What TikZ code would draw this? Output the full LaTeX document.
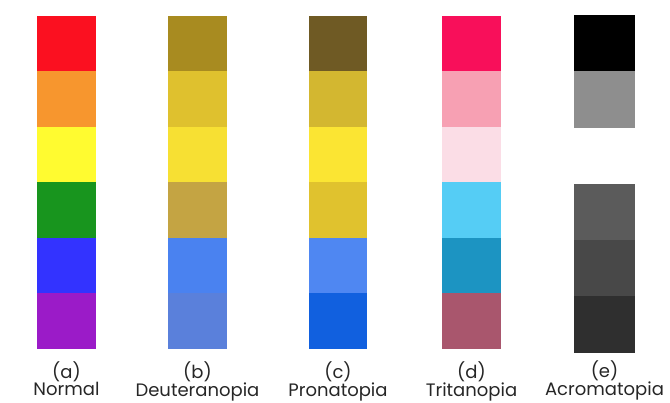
\documentclass[tikz,border=0pt]{standalone}
\usepackage{fontspec}
\setmainfont{Poppins}
\usepackage{tikz}
\usetikzlibrary{positioning}
\definecolor{nred}{HTML}{FB1020}
\definecolor{norange}{HTML}{F7962E}
\definecolor{nyellow}{HTML}{FFFB30}
\definecolor{ngreen}{HTML}{18951E}
\definecolor{nblue}{HTML}{3333FF}
\definecolor{npurple}{HTML}{9B1BC8}
\definecolor{dred}{HTML}{A88B20}
\definecolor{dorange}{HTML}{DFC12E}
\definecolor{dyellow}{HTML}{F7E033}
\definecolor{dgreen}{HTML}{C4A443}
\definecolor{dblue}{HTML}{4A82F0}
\definecolor{dpurple}{HTML}{5A80DB}
\definecolor{pred}{HTML}{6F5A24}
\definecolor{porange}{HTML}{D3B730}
\definecolor{pyellow}{HTML}{FBE533}
\definecolor{pgreen}{HTML}{E0C22E}
\definecolor{pblue}{HTML}{4F87F2}
\definecolor{ppurple}{HTML}{1160DF}
\definecolor{tred}{HTML}{F80F5A}
\definecolor{torange}{HTML}{F7A0B3}
\definecolor{tyellow}{HTML}{FBDDE6}
\definecolor{tgreen}{HTML}{55CDF5}
\definecolor{tblue}{HTML}{1C94C2}
\definecolor{tpurple}{HTML}{A9566D}
\definecolor{gred}{HTML}{000000}
\definecolor{gorange}{HTML}{8E8E8E}
\definecolor{ggreen}{HTML}{5B5B5B}
\definecolor{gblue}{HTML}{484848}
\definecolor{gpurple}{HTML}{2F2F2F}
\begin{document}
\begin{tikzpicture}[x=1pt, y=-1pt,
        node distance=0pt,
        swatch/.style={rectangle, inner sep=0pt, outer sep=0pt, minimum width=59pt, minimum height=55.5pt},
        gswatch/.style={swatch, minimum width=61pt, minimum height=56.3pt},
        caption/.style={align=center, inner sep=0pt, font=\fontsize{18}{17}\selectfont, text=black!85}
    ]
    \useasboundingbox (0,0) rectangle (670,403);
    % (a) normal
    \node[swatch, fill=nred, anchor=north west] (a1) at (37,16) {};
    \node[swatch, fill=norange, below=of a1] (a2) {};
    \node[swatch, fill=nyellow, below=of a2] (a3) {};
    \node[swatch, fill=ngreen, below=of a3] (a4) {};
    \node[swatch, fill=nblue, below=of a4] (a5) {};
    \node[swatch, fill=npurple, below=of a5] (a6) {};
    % (b) deuteranopia
    \node[swatch, fill=dred, anchor=north west] (b1) at (168,16) {};
    \node[swatch, fill=dorange, below=of b1] (b2) {};
    \node[swatch, fill=dyellow, below=of b2] (b3) {};
    \node[swatch, fill=dgreen, below=of b3] (b4) {};
    \node[swatch, fill=dblue, below=of b4] (b5) {};
    \node[swatch, fill=dpurple, below=of b5] (b6) {};
    % (c) pronatopia
    \node[swatch, fill=pred, anchor=north west, minimum width=58pt] (c1) at (309,16) {};
    \node[swatch, fill=porange, minimum width=58pt, below=of c1] (c2) {};
    \node[swatch, fill=pyellow, minimum width=58pt, below=of c2] (c3) {};
    \node[swatch, fill=pgreen, minimum width=58pt, below=of c3] (c4) {};
    \node[swatch, fill=pblue, minimum width=58pt, below=of c4] (c5) {};
    \node[swatch, fill=ppurple, minimum width=58pt, below=of c5] (c6) {};
    % (d) tritanopia
    \node[swatch, fill=tred, anchor=north west] (d1) at (442,16) {};
    \node[swatch, fill=torange, below=of d1] (d2) {};
    \node[swatch, fill=tyellow, below=of d2] (d3) {};
    \node[swatch, fill=tgreen, below=of d3] (d4) {};
    \node[swatch, fill=tblue, below=of d4] (d5) {};
    \node[swatch, fill=tpurple, below=of d5] (d6) {};
    % (e) acromatopia
    \node[gswatch, fill=gred, anchor=north west] (e1) at (574,15) {};
    \node[gswatch, fill=gorange, below=of e1] (e2) {};
    \node[gswatch, fill=white, below=of e2] (e3) {};
    \node[gswatch, fill=ggreen, below=of e3] (e4) {};
    \node[gswatch, fill=gblue, below=of e4] (e5) {};
    \node[gswatch, fill=gpurple, below=of e5] (e6) {};
    % captions
    \node[caption, below=12pt of a6] (la) {(a)\\Normal};
    \node[caption, below=12pt of b6] (lb) {(b)\\Deuteranopia};
    \node[caption, below=12pt of c6] (lc) {(c)\\Pronatopia};
    \node[caption, below=12pt of d6] (ld) {(d)\\Tritanopia};
    \node[caption, below=8pt of e6] (le) {(e)\\Acromatopia};
\end{tikzpicture}
\end{document}
